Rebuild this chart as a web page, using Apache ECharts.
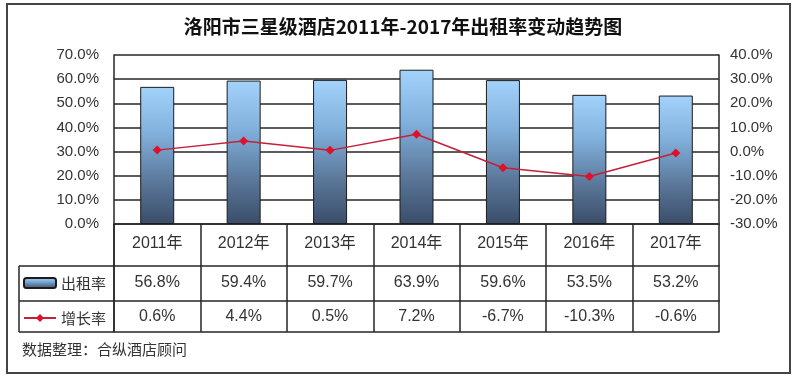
<!DOCTYPE html>
<html>
<head>
<meta charset="utf-8">
<script src="https://cdn.jsdelivr.net/npm/echarts@6/dist/echarts.min.js"></script>
<style>
html,body{margin:0;padding:0;background:#fff;}
#c{width:800px;height:382px;}
</style>
</head>
<body>
<div id="c"></div>
<script>
var title = '洛阳市三星级酒店2011年-2017年出租率变动趋势图';
var years = ['2011年','2012年','2013年','2014年','2015年','2016年','2017年'];
var rentName = '出租率';
var growthName = '增长率';
var rentRate = [56.8, 59.4, 59.7, 63.9, 59.6, 53.5, 53.2];
var growthRate = [0.6, 4.4, 0.5, 7.2, -6.7, -10.3, -0.6];
var leftAxis = {min: 0, max: 70, step: 10};
var rightAxis = {min: -30, max: 40, step: 10};
var sourceNote = '数据整理：合纵酒店顾问';

var FONT = '"Liberation Sans","Noto Sans CJK SC",sans-serif';
var CJK = '"Noto Sans CJK SC",sans-serif';
var LINE = '#262626';
var TXT = '#333';
var G = {left: 114, right: 81, top: 55, bottom: 158};
var plotBottom = 382 - G.bottom; // 224
var row1 = 42, row2 = 35, row3 = 31;
var tableLeft = 19;

var chart = echarts.init(document.getElementById('c'), null, {renderer: 'canvas'});

function pct(v){ return v.toFixed(1) + '%'; }

var barGrad = new echarts.graphic.LinearGradient(0, 0, 0, 1, [
  {offset: 0, color: '#a3d3fb'},
  {offset: 0.35, color: '#80afdb'},
  {offset: 0.7, color: '#5a7698'},
  {offset: 1, color: '#3a4d6a'}
]);

function tableAxis(offset, labels, tickLen, margin, showLabel){
  return {
    type: 'category', data: labels, gridIndex: 0, position: 'bottom', offset: offset,
    axisLine: {show: true, onZero: false, lineStyle: {color: LINE, width: 1.5}},
    axisTick: {show: tickLen > 0, interval: 0, length: tickLen, lineStyle: {color: LINE, width: 1.5}},
    axisLabel: {show: showLabel, interval: 0, margin: margin, color: TXT, fontSize: 16, fontFamily: FONT},
    splitLine: {show: false}
  };
}

var option = {
  animation: false,
  backgroundColor: '#fff',
  title: {
    text: title, left: 398, top: 12, textAlign: 'center',
    textStyle: {fontSize: 19, fontWeight: 'bold', color: '#111', fontFamily: CJK}
  },
  legend: {
    orient: 'vertical', left: 23, top: 275, padding: 0, itemWidth: 32, itemHeight: 10, itemGap: 19,
    data: [rentName, growthName],
    textStyle: {fontSize: 15, color: TXT, fontFamily: CJK, lineHeight: 16, padding: [0,0,0,0]}
  },
  grid: {left: G.left, right: G.right, top: G.top, bottom: G.bottom, containLabel: false},
  xAxis: [
    tableAxis(0, years, row1, 12, true),
    tableAxis(row1, years.map(function(_, i){ return pct(rentRate[i]); }), row2, 9, true),
    tableAxis(row1 + row2, years.map(function(_, i){ return pct(growthRate[i]); }), row3, 8, true),
    tableAxis(row1 + row2 + row3, years, 0, 0, false)
  ],
  yAxis: [
    {
      type: 'value', min: leftAxis.min, max: leftAxis.max, interval: leftAxis.step, position: 'left',
      axisLine: {show: true, onZero: false, lineStyle: {color: LINE, width: 1.5}},
      axisTick: {show: false},
      axisLabel: {margin: 15, color: TXT, fontSize: 15, fontFamily: FONT, formatter: function(v){ return pct(v); }},
      splitLine: {show: true, lineStyle: {color: LINE, width: 1.5}}
    },
    {
      type: 'value', min: rightAxis.min, max: rightAxis.max, interval: rightAxis.step, position: 'right',
      axisLine: {show: true, onZero: false, lineStyle: {color: LINE, width: 1.5}},
      axisTick: {show: false},
      axisLabel: {margin: 11, color: TXT, fontSize: 15, fontFamily: FONT, formatter: function(v){ return pct(v); }},
      splitLine: {show: false}
    }
  ],
  series: [
    {
      name: rentName, type: 'bar', xAxisIndex: 0, yAxisIndex: 0, data: rentRate, barWidth: 34,
      itemStyle: {color: barGrad, borderColor: '#1c1c1c', borderWidth: 1}
    },
    {
      name: growthName, type: 'line', xAxisIndex: 0, yAxisIndex: 1, data: growthRate,
      symbol: 'diamond', symbolSize: 9, z: 5,
      lineStyle: {color: '#c4203a', width: 1.5},
      itemStyle: {color: '#e0102a'}
    }
  ],
  graphic: [
    {type: 'rect', shape: {x: 7, y: 4, width: 783, height: 369}, style: {fill: 'none', stroke: '#444', lineWidth: 2}, silent: true, z: 0},
    {type: 'line', shape: {x1: tableLeft, y1: plotBottom + row1, x2: G.left, y2: plotBottom + row1}, style: {stroke: LINE, lineWidth: 1.5}},
    {type: 'line', shape: {x1: tableLeft, y1: plotBottom + row1 + row2, x2: G.left, y2: plotBottom + row1 + row2}, style: {stroke: LINE, lineWidth: 1.5}},
    {type: 'line', shape: {x1: tableLeft, y1: plotBottom + row1 + row2 + row3, x2: G.left, y2: plotBottom + row1 + row2 + row3}, style: {stroke: LINE, lineWidth: 1.5}},
    {type: 'line', shape: {x1: tableLeft, y1: plotBottom + row1, x2: tableLeft, y2: plotBottom + row1 + row2 + row3}, style: {stroke: LINE, lineWidth: 1.5}},
    {type: 'line', shape: {x1: G.left, y1: plotBottom, x2: G.left, y2: plotBottom + row1 + row2 + row3}, style: {stroke: LINE, lineWidth: 1.5}},
    {type: 'text', left: 22, top: 342, style: {text: sourceNote, fontSize: 15, fill: TXT, fontFamily: CJK}}
  ]
};
chart.setOption(option);
</script>
</body>
</html>
